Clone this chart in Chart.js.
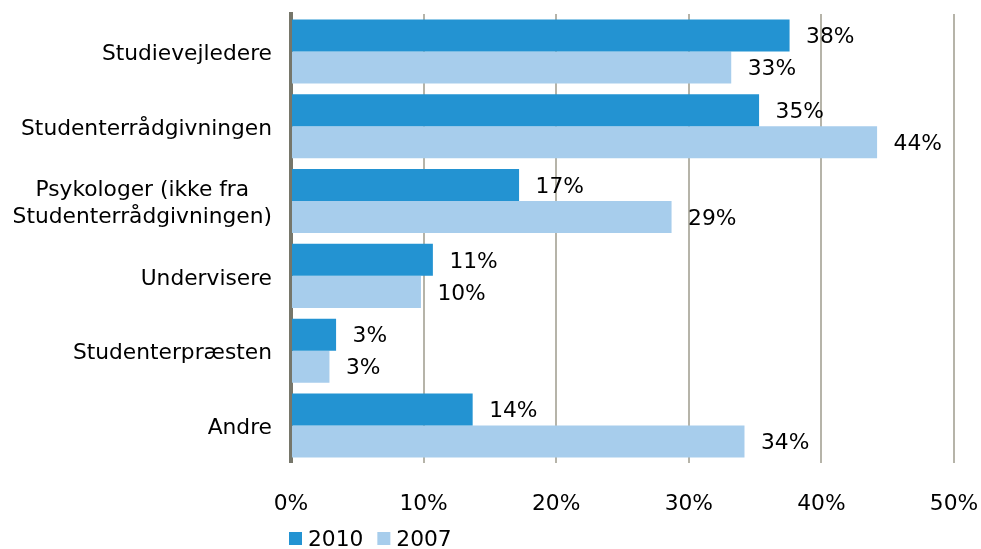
<!DOCTYPE html>
<html>
<head>
<meta charset="utf-8">
<script src="https://cdn.jsdelivr.net/npm/chart.js@4"></script>
<style>
    body { margin: 0; background: #fff; }
    #wrap { width: 981px; height: 549px; }
</style>
</head>
<body>
<div id="wrap"><canvas id="chart" width="981" height="549"></canvas></div>
<script>
// Chart data
const categories = [
    'Studievejledere',
    'Studenterrådgivningen',
    ['Psykologer (ikke fra', 'Studenterrådgivningen)'],
    'Undervisere',
    'Studenterpræsten',
    'Andre'
];
const seriesNames = ['2010', '2007'];
const values2010 = [37.6, 35.3, 17.2, 10.7, 3.4, 13.7];
const values2007 = [33.2, 44.2, 28.7, 9.8, 2.9, 34.2];
const xTicks = [0, 10, 20, 30, 40, 50];

const FONT = 'DejaVu Sans';
const FONT_SIZE = 21.75;
const colors = ['#2393d2', '#a7cdec'];

Chart.defaults.font.family = FONT;
Chart.defaults.font.size = FONT_SIZE;
Chart.defaults.color = '#000';

// Category labels: block right-aligned to the axis, lines centered inside the block
const categoryLabels = {
    id: 'categoryLabels',
    afterDraw(chart) {
        const ctx = chart.ctx;
        const yScale = chart.scales.y;
        const right = chart.chartArea.left - 19;
        const lineH = 26.5;
        ctx.save();
        ctx.font = `${FONT_SIZE}px "${FONT}"`;
        ctx.fillStyle = '#000';
        ctx.textBaseline = 'middle';
        ctx.textAlign = 'center';
        categories.forEach((label, i) => {
            const lines = Array.isArray(label) ? label : [label];
            const maxW = Math.max(...lines.map(l => ctx.measureText(l).width));
            const cx = right - maxW / 2;
            const cy = yScale.getPixelForValue(i) + 3;
            lines.forEach((line, j) => {
                const y = cy + (j - (lines.length - 1) / 2) * lineH;
                ctx.fillText(line, cx, y);
            });
        });
        ctx.restore();
    }
};

// Value labels to the right of each bar
const valueLabels = {
    id: 'valueLabels',
    afterDatasetsDraw(chart) {
        const ctx = chart.ctx;
        ctx.save();
        ctx.font = `${FONT_SIZE}px "${FONT}"`;
        ctx.fillStyle = '#000';
        ctx.textBaseline = 'middle';
        ctx.textAlign = 'left';
        chart.data.datasets.forEach((ds, di) => {
            chart.getDatasetMeta(di).data.forEach((bar, i) => {
                ctx.fillText(Math.round(ds.data[i]) + '%', bar.x + 16.5, bar.y + 2);
            });
        });
        ctx.restore();
    }
};

// Legend below the plot, starting at the axis line
const bottomLegend = {
    id: 'bottomLegend',
    afterDraw(chart) {
        const ctx = chart.ctx;
        let x = chart.chartArea.left - 2;
        const y = 538;
        ctx.save();
        ctx.font = `${FONT_SIZE}px "${FONT}"`;
        ctx.textBaseline = 'middle';
        ctx.textAlign = 'left';
        chart.data.datasets.forEach(ds => {
            ctx.fillStyle = ds.backgroundColor;
            ctx.fillRect(x, y - 6, 13, 13);
            x += 19;
            ctx.fillStyle = '#000';
            ctx.fillText(ds.label, x, y + 2);
            x += ctx.measureText(ds.label).width + 14;
        });
        ctx.restore();
    }
};

const ctx = document.getElementById('chart').getContext('2d');
new Chart(ctx, {
    type: 'bar',
    data: {
        labels: categories,
        datasets: [
            { label: seriesNames[0], data: values2010, backgroundColor: colors[0] },
            { label: seriesNames[1], data: values2007, backgroundColor: colors[1] }
        ]
    },
    options: {
        indexAxis: 'y',
        responsive: false,
        animation: false,
        categoryPercentage: 0.856,
        barPercentage: 1,
        layout: { padding: { top: 14, right: 27, bottom: 4, left: 0 } },
        plugins: {
            legend: { display: false },
            tooltip: { enabled: false }
        },
        scales: {
            x: {
                min: 0,
                max: 50,
                afterBuildTicks: scale => { scale.ticks = xTicks.map(v => ({ value: v })); },
                afterFit: scale => { scale.paddingLeft = 0; scale.paddingRight = 0; },
                grid: { color: '#b6b4a9', lineWidth: 2, drawTicks: false },
                border: { display: false },
                ticks: {
                    padding: 28,
                    callback: v => v + '%'
                }
            },
            y: {
                afterFit: scale => { scale.width = 291; },
                grid: { display: false, drawTicks: false },
                border: { display: true, color: '#76766a', width: 4 },
                ticks: { display: false }
            }
        }
    },
    plugins: [categoryLabels, valueLabels, bottomLegend]
});
</script>
</body>
</html>
